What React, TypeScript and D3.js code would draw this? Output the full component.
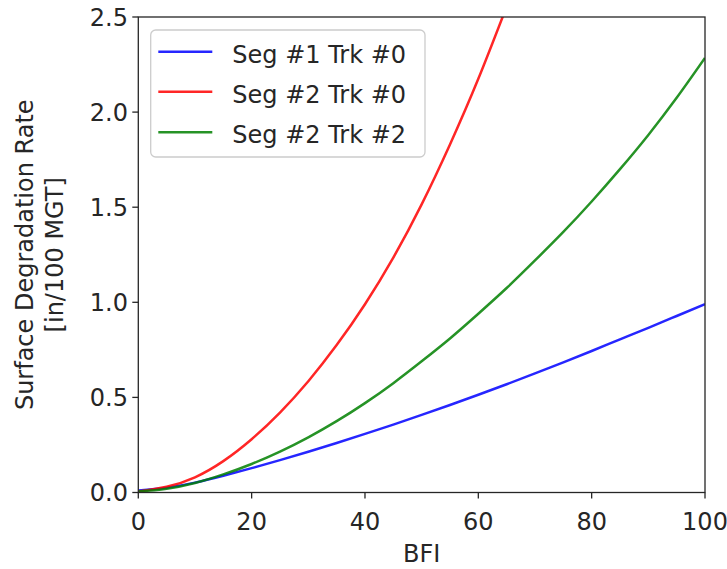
import React from "react";
import * as d3 from "d3";

const bfi = [0, 5, 10, 15, 20, 25, 30, 35, 40, 45, 50, 55, 60, 65, 70, 75, 80, 85, 90, 95, 100];
const seg1Trk0 = [0.01, 0.025, 0.052, 0.088, 0.128, 0.17, 0.214, 0.26, 0.308, 0.357, 0.408, 0.46, 0.514, 0.569, 0.626, 0.684, 0.744, 0.805, 0.866, 0.928, 0.99];
const seg2Trk0 = [0.005, 0.03, 0.08, 0.165, 0.28, 0.42, 0.585, 0.775, 0.99, 1.235, 1.515, 1.83, 2.175, 2.555];
const seg2Trk2 = [0.005, 0.02, 0.05, 0.095, 0.15, 0.215, 0.29, 0.375, 0.47, 0.575, 0.69, 0.81, 0.94, 1.075, 1.22, 1.37, 1.53, 1.7, 1.88, 2.075, 2.285];
const seriesNames = ["Seg #1 Trk #0", "Seg #2 Trk #0", "Seg #2 Trk #2"];
const seriesColors = ["#0000ff", "#ff0000", "#008000"];
const xTicks = [0, 20, 40, 60, 80, 100];
const yTicks = [0, 0.5, 1.0, 1.5, 2.0, 2.5];

const W = 727, H = 569;
const L = 138.3, R = 705, T = 17, B = 492.5;
const FONT = "DejaVu Sans, sans-serif";
const FS = 24;

export default function App() {
  const x = d3.scaleLinear().domain([0, 100]).range([L, R]);
  const y = d3.scaleLinear().domain([0, 2.5]).range([B, T]);
  const line = d3
    .line<[number, number]>()
    .x((d) => x(d[0]))
    .y((d) => y(d[1]))
    .curve(d3.curveNatural);
  const all = [seg1Trk0, seg2Trk0, seg2Trk2];
  const paths = all.map((vals) => line(vals.map((v, i) => [bfi[i], v] as [number, number])) || "");
  const axisColor = "#262626";

  return (
    <svg width={W} height={H} style={{ position: "absolute", left: 0, top: 0, background: "#fff" }} fontFamily={FONT}>
      <defs>
        <clipPath id="plotclip">
          <rect x={L} y={T} width={R - L} height={B - T} />
        </clipPath>
      </defs>
      <rect x={0} y={0} width={W} height={H} fill="#fff" />
      <g clipPath="url(#plotclip)">
        {paths.map((p, i) => (
          <path key={i} d={p} fill="none" stroke={seriesColors[i]} strokeWidth={2.5} strokeOpacity={0.85} />
        ))}
      </g>
      <rect x={L} y={T} width={R - L} height={B - T} fill="none" stroke={axisColor} strokeWidth={1.3} />
      {xTicks.map((t) => (
        <g key={"x" + t}>
          <line x1={x(t)} x2={x(t)} y1={B} y2={B + 6} stroke={axisColor} strokeWidth={1.3} />
          <text x={x(t)} y={530} textAnchor="middle" fontSize={FS} fill="#262626">
            {t}
          </text>
        </g>
      ))}
      {yTicks.map((t) => (
        <g key={"y" + t}>
          <line x1={L - 6} x2={L} y1={y(t)} y2={y(t)} stroke={axisColor} strokeWidth={1.3} />
          <text x={128} y={y(t) + 8.7} textAnchor="end" fontSize={FS} fill="#262626">
            {t.toFixed(1)}
          </text>
        </g>
      ))}
      <text x={(L + R) / 2} y={562} textAnchor="middle" fontSize={FS} fill="#262626">
        BFI
      </text>
      <g transform={`translate(0, ${(T + B) / 2}) rotate(-90)`}>
        <text x={0} y={33} textAnchor="middle" fontSize={FS} fill="#262626">
          Surface Degradation Rate
        </text>
        <text x={0} y={63} textAnchor="middle" fontSize={FS} fill="#262626">
          [in/100 MGT]
        </text>
      </g>
      <g>
        <rect x={150.7} y={30} width={274.3} height={127} rx={5} ry={5} fill="#fff" fillOpacity={0.8} stroke="#cccccc" strokeWidth={1.3} />
        {seriesNames.map((n, i) => {
          const ly = [51.7, 91.7, 132.3][i];
          return (
            <g key={n}>
              <line x1={158.3} x2={212.3} y1={ly} y2={ly} stroke={seriesColors[i]} strokeWidth={2.5} strokeOpacity={0.85} />
              <text x={232.3} y={ly + 11} fontSize={FS} fill="#262626">
                {n}
              </text>
            </g>
          );
        })}
      </g>
    </svg>
  );
}
